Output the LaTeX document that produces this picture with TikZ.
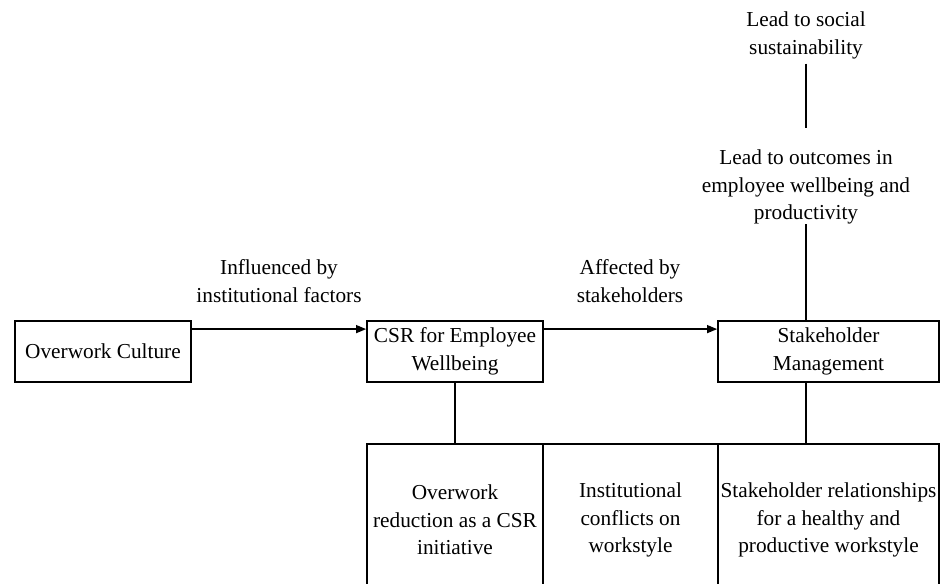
\documentclass[tikz,border=0pt]{standalone}
\usepackage{fontspec}
\setmainfont{Liberation Serif}
\usetikzlibrary{arrows.meta}

\tikzset{
  boxnode/.style={draw, line width=1.8pt, minimum height=61pt, inner sep=0pt, align=center},
  labelnode/.style={align=center, inner sep=0pt},
  link/.style={line width=1.1pt},
  flow/.style={line width=1.3pt, -{Triangle[length=10pt,width=8pt]}},
}

\begin{document}
\begin{tikzpicture}[x=1pt,y=1pt,font=\fontsize{21.3}{27.5}\selectfont]
  \useasboundingbox (0,0) rectangle (941,-583);
  \clip (0,0) rectangle (941,-583);

  % main row
  \node[boxnode, minimum width=176pt] (ow) at (103,-351.5) {Overwork Culture};
  \node[boxnode, minimum width=176pt] (csr) at (455,-351.5) {CSR for Employee\\Wellbeing};
  \node[boxnode, minimum width=221pt] (sm) at (828.5,-351.5) {Stakeholder\\Management};

  % bottom row (cut off by the page)
  \node[boxnode, minimum width=176pt, minimum height=152pt] (b1) at (455,-520) {Overwork\\reduction as a CSR\\initiative};
  \node[boxnode, minimum width=175pt, minimum height=152pt] (b2) at (630.5,-520) {Institutional\\conflicts on\\workstyle};
  \node[boxnode, minimum width=221pt, minimum height=152pt] (b3) at (828.5,-520) {Stakeholder relationships\\for a healthy and\\productive workstyle};

  % labels
  \node[labelnode] (lin) at (279,-281) {Influenced by\\institutional factors};
  \node[labelnode] (laf) at (630,-281) {Affected by\\stakeholders};
  \node[labelnode] (lsoc) at (806,-35.5) {Lead to social\\sustainability};
  \node[labelnode] (lout) at (806,-187) {Lead to outcomes in\\employee wellbeing and\\productivity};

  % arrows
  \draw[flow] ([yshift=-9pt]ow.north east) -- ([yshift=-9pt]csr.north west);
  \draw[flow] ([yshift=-9pt]csr.north east) -- ([yshift=-9pt]sm.north west);

  % plain links
  \draw[link] ([yshift=-4.5pt]lsoc.south) -- ([yshift=21.5pt]lout.north);
  \draw[link] (lout.south) -- (lout.south |- sm.north);
  \draw[link] (csr.south) -- (b1.north);
  \draw[link] (lout.south |- sm.south) -- (lout.south |- b3.north);
\end{tikzpicture}
\end{document}
